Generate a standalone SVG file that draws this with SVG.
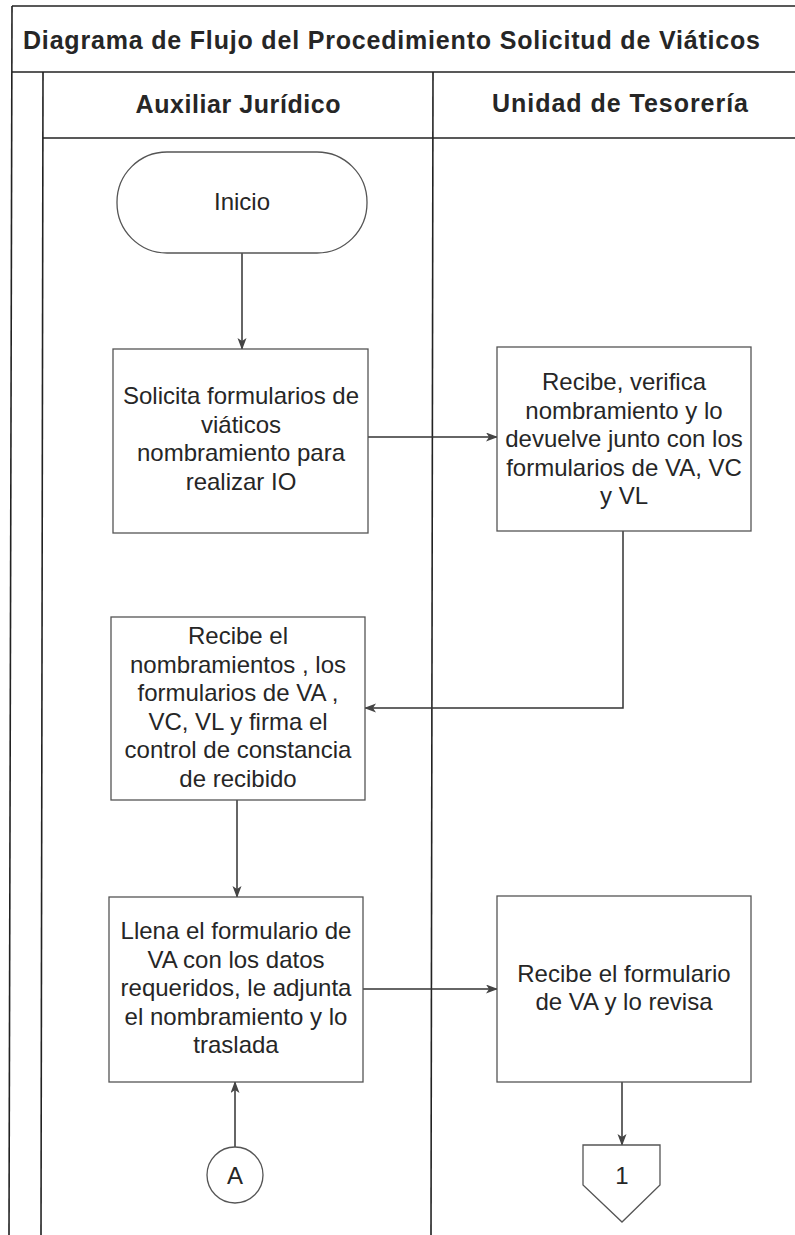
<svg xmlns="http://www.w3.org/2000/svg" width="795" height="1235" viewBox="0 0 795 1235">
<style>
.frame{stroke:#222;stroke-width:1.6;fill:none}
.box{fill:#fff;stroke:#555;stroke-width:1.3}
.conn{stroke:#333;stroke-width:1.5;fill:none}
.t{font-family:"Liberation Sans",Arial,sans-serif;font-size:24px;fill:#262626;text-anchor:middle}
.h{font-family:"Liberation Sans",Arial,sans-serif;font-size:25px;font-weight:bold;fill:#262626;text-anchor:middle}
</style>
<defs>
<marker id="arr" markerWidth="12" markerHeight="10" refX="11" refY="4.5" orient="auto" markerUnits="userSpaceOnUse">
<path d="M0,0 L12,4.5 L0,9 L3,4.5 z" fill="#444"/>
</marker>
</defs>
<rect width="795" height="1235" fill="#fff"/>
<g id="frame">
<line class="frame" x1="12" y1="6" x2="795" y2="6"/>
<line class="frame" x1="12" y1="6" x2="9" y2="1235"/>
<line class="frame" x1="12" y1="72" x2="795" y2="72"/>
<line class="frame" x1="43" y1="72" x2="41" y2="1235"/>
<line class="frame" x1="43" y1="138" x2="795" y2="138"/>
<line class="frame" x1="433" y1="72" x2="431" y2="1235"/>
<text class="h" x="23" y="49" style="text-anchor:start" textLength="737">Diagrama de Flujo del Procedimiento Solicitud de Viáticos</text>
<text class="h" x="238" y="113" textLength="205">Auxiliar Jurídico</text>
<text class="h" x="620" y="112" textLength="256">Unidad de Tesorería</text>
</g>
<g id="connectors">
<line class="conn" x1="242" y1="253" x2="242" y2="349" marker-end="url(#arr)"/>
<line class="conn" x1="368" y1="437" x2="497" y2="437" marker-end="url(#arr)"/>
<polyline class="conn" points="623,531 623,708 365,708" marker-end="url(#arr)"/>
<line class="conn" x1="237" y1="800" x2="237" y2="897" marker-end="url(#arr)"/>
<line class="conn" x1="363" y1="989" x2="497" y2="989" marker-end="url(#arr)"/>
<line class="conn" x1="622" y1="1082" x2="622" y2="1145" marker-end="url(#arr)"/>
<line class="conn" x1="235" y1="1147" x2="235" y2="1082" marker-end="url(#arr)"/>
</g>
<g id="inicio">
<rect class="box" x="117" y="152" width="250" height="101" rx="50" ry="50"/>
<text class="t" x="242" y="210">Inicio</text>
</g>
<g id="solicita">
<rect class="box" x="113" y="349" width="255" height="184"/>
<text class="t" x="241" y="404">Solicita formularios de</text>
<text class="t" x="241" y="432.6">viáticos</text>
<text class="t" x="241" y="461.2">nombramiento para</text>
<text class="t" x="241" y="489.8">realizar IO</text>
</g>
<g id="recibe-verifica">
<rect class="box" x="497" y="347" width="254" height="184"/>
<text class="t" x="624" y="390">Recibe, verifica</text>
<text class="t" x="624" y="418.6">nombramiento y lo</text>
<text class="t" x="624" y="447.2">devuelve junto con los</text>
<text class="t" x="624" y="475.8">formularios de VA, VC</text>
<text class="t" x="624" y="504.4">y VL</text>
</g>
<g id="recibe-nombramientos">
<rect class="box" x="111" y="617" width="254" height="183"/>
<text class="t" x="238" y="644">Recibe el</text>
<text class="t" x="238" y="672.6">nombramientos , los</text>
<text class="t" x="238" y="701.2">formularios de VA ,</text>
<text class="t" x="238" y="729.8">VC, VL y firma el</text>
<text class="t" x="238" y="758.4">control de constancia</text>
<text class="t" x="238" y="787">de recibido</text>
</g>
<g id="llena">
<rect class="box" x="109" y="897" width="254" height="185"/>
<text class="t" x="236" y="939">Llena el formulario de</text>
<text class="t" x="236" y="967.6">VA con los datos</text>
<text class="t" x="236" y="996.2">requeridos,  le adjunta</text>
<text class="t" x="236" y="1024.8">el nombramiento y lo</text>
<text class="t" x="236" y="1053.4">traslada</text>
</g>
<g id="recibe-formulario">
<rect class="box" x="497" y="896" width="254" height="186"/>
<text class="t" x="624" y="982">Recibe el formulario</text>
<text class="t" x="624" y="1010">de VA y lo revisa</text>
</g>
<g id="conector-a">
<circle class="box" cx="235" cy="1175" r="28"/>
<text class="t" x="235" y="1184">A</text>
</g>
<g id="conector-1">
<polygon class="box" points="583,1145 660,1145 660,1185 622,1222 583,1185"/>
<text class="t" x="622" y="1184">1</text>
</g>
</svg>
